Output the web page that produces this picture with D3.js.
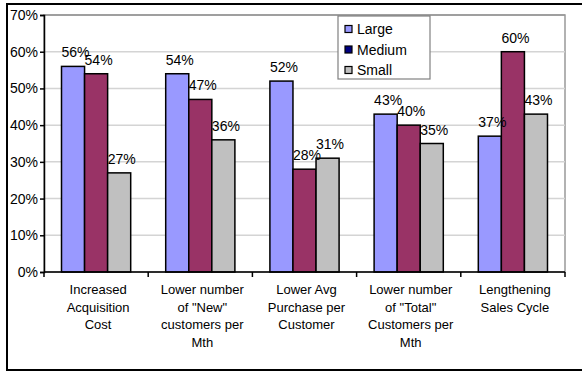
<!DOCTYPE html>
<html>
<head>
<meta charset="utf-8">
<script src="https://cdn.jsdelivr.net/npm/d3@7"></script>
<style>
  body { margin: 0; background: #fff; }
  text { font-family: "Liberation Sans", Arial, sans-serif; fill: #000; }
</style>
</head>
<body>
<div id="chart"></div>
<script>
const categories = [
  ["Increased", "Acquisition", "Cost"],
  ["Lower number", "of \"New\"", "customers per", "Mth"],
  ["Lower Avg", "Purchase per", "Customer"],
  ["Lower number", "of \"Total\"", "Customers per", "Mth"],
  ["Lengthening", "Sales Cycle"]
];
const seriesNames = ["Large", "Medium", "Small"];
const large = [0.56, 0.54, 0.52, 0.43, 0.37];
const medium = [0.54, 0.47, 0.28, 0.40, 0.60];
const small = [0.27, 0.36, 0.31, 0.35, 0.43];
const yTicks = [0, 0.1, 0.2, 0.3, 0.4, 0.5, 0.6, 0.7];

const colors = ["#9999FF", "#993366", "#C0C0C0"];
const legendColors = ["#9999FF", "#000080", "#C0C0C0"]; // excel legend quirk
const values = [large, medium, small];

const width = 582, height = 372;
const plot = { left: 44, right: 565, top: 15, bottom: 272 };

const svg = d3.select("#chart")
  .append("svg")
  .attr("width", width)
  .attr("height", height);

// outer frame (right edge runs off the picture)
svg.append("rect")
  .attr("x", 7).attr("y", 4)
  .attr("width", 620).attr("height", 366)
  .attr("fill", "#fff")
  .attr("stroke", "#000")
  .attr("stroke-width", 2);

const y = d3.scaleLinear().domain([0, 0.7]).range([plot.bottom, plot.top]);
const x0 = d3.scaleBand().domain(d3.range(categories.length)).range([plot.left, plot.right]).padding(0);
const bw = x0.bandwidth();
const x1 = d3.scaleBand().domain(d3.range(seriesNames.length)).range([bw * 0.168, bw * 0.832]).padding(0);

// plot area border
svg.append("rect")
  .attr("x", plot.left).attr("y", plot.top)
  .attr("width", plot.right - plot.left).attr("height", plot.bottom - plot.top)
  .attr("fill", "#fff")
  .attr("stroke", "#999")
  .attr("stroke-width", 1.5);

// gridlines
svg.append("g")
  .selectAll("line")
  .data(yTicks.slice(1))
  .join("line")
  .attr("x1", plot.left).attr("x2", plot.right)
  .attr("y1", d => y(d)).attr("y2", d => y(d))
  .attr("stroke", d => d === 0.7 ? "#999" : "#d4d4d4")
  .attr("stroke-width", 1.5);

// bars
const groups = svg.append("g")
  .selectAll("g")
  .data(categories)
  .join("g")
  .attr("transform", (d, i) => `translate(${x0(i)},0)`);

groups.selectAll("rect")
  .data((d, i) => values.map((s, j) => ({ s: j, v: s[i] })))
  .join("rect")
  .attr("x", d => x1(d.s))
  .attr("width", x1.bandwidth())
  .attr("y", d => y(d.v))
  .attr("height", d => y(0) - y(d.v))
  .attr("fill", d => colors[d.s])
  .attr("stroke", "#000")
  .attr("stroke-width", 1.5);

groups.selectAll("text.val")
  .data((d, i) => values.map((s, j) => ({ s: j, v: s[i] })))
  .join("text")
  .attr("class", "val")
  .attr("x", d => x1(d.s) + x1.bandwidth() / 2 + 2.5)
  .attr("y", d => y(d.v) - 9)
  .attr("text-anchor", "middle")
  .style("font-size", "14px")
  .text(d => d3.format(".0%")(d.v));

// y axis
const yAxis = svg.append("g")
  .attr("transform", `translate(${plot.left},0)`)
  .call(d3.axisLeft(y).tickValues(yTicks).tickFormat(d3.format(".0%")).tickSize(4).tickPadding(2));
yAxis.select(".domain").attr("stroke", "#000").attr("stroke-width", 1.5);
yAxis.selectAll(".tick line").attr("stroke", "#000").attr("stroke-width", 1.5);
yAxis.selectAll(".tick text")
  .style("font-size", "14px")
  .style("font-family", "'Liberation Sans', Arial, sans-serif")
  .attr("fill", "#000");

// x axis line + boundary ticks
svg.append("line")
  .attr("x1", plot.left).attr("x2", plot.right)
  .attr("y1", y(0)).attr("y2", y(0))
  .attr("stroke", "#000").attr("stroke-width", 1.5);
svg.append("g")
  .selectAll("line")
  .data(d3.range(categories.length + 1))
  .join("line")
  .attr("x1", i => i < categories.length ? x0(i) : plot.right)
  .attr("x2", i => i < categories.length ? x0(i) : plot.right)
  .attr("y1", y(0)).attr("y2", y(0) + 5)
  .attr("stroke", "#000").attr("stroke-width", 1.5);

// category labels
const catLabels = svg.append("g")
  .selectAll("text")
  .data(categories)
  .join("text")
  .attr("x", (d, i) => x0(i) + bw / 2 + 2)
  .attr("y", 294)
  .attr("text-anchor", "middle")
  .style("font-size", "13px");
catLabels.selectAll("tspan")
  .data(d => d)
  .join("tspan")
  .attr("x", function () { return d3.select(this.parentNode).attr("x"); })
  .attr("dy", (d, i) => i === 0 ? 0 : 17.5)
  .text(d => d);

// legend
const legend = svg.append("g").attr("transform", "translate(338,16)");
legend.append("rect")
  .attr("width", 92).attr("height", 63)
  .attr("fill", "#fff")
  .attr("stroke", "#808080")
  .attr("stroke-width", 1.2);
const items = legend.selectAll("g.item")
  .data(seriesNames)
  .join("g")
  .attr("class", "item")
  .attr("transform", (d, i) => `translate(0,${13 + i * 20.5})`);
items.append("rect")
  .attr("x", 7).attr("y", -3.5)
  .attr("width", 7).attr("height", 7)
  .attr("fill", (d, i) => legendColors[i])
  .attr("stroke", "#000").attr("stroke-width", 1.2);
items.append("text")
  .attr("x", 19).attr("y", 5)
  .style("font-size", "14px")
  .text(d => d);
</script>
</body>
</html>
